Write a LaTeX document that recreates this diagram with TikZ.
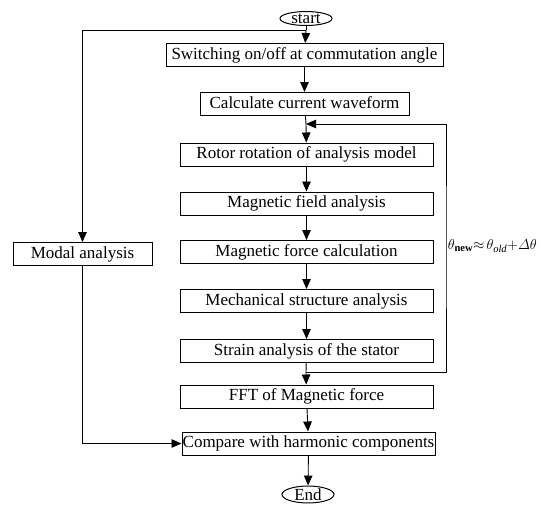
\documentclass[tikz,border=0pt]{standalone}
\usepackage{amsmath}
\usepackage{fontspec}
\setmainfont{Liberation Serif}
\usetikzlibrary{arrows.meta,positioning,shapes.geometric}

\tikzset{
  box/.style={draw,line width=1pt,inner sep=0pt,minimum height=23pt,
    text height=12pt,text depth=3.5pt},
  term/.style={draw,ellipse,line width=1pt,inner sep=0pt,
    minimum width=52pt,minimum height=14pt},
  flow/.style={line width=0.9pt},
}

\begin{document}
\begin{tikzpicture}[x=1pt,y=1pt,flow,>={Triangle[length=10pt,width=8.5pt]},
    font=\fontsize{17}{19}\selectfont]
  \useasboundingbox (0,0) rectangle (548,-504);

  \node[term] at (306,-18.5) (start) {start};
  \node[box,minimum width=277pt] at (304.5,-55) (switch) {Switching on/off at commutation angle};
  \node[box,minimum width=209pt] at (304.5,-104) (calc) {Calculate current waveform};

  \node[box,minimum width=253pt] at (306.5,-154.5) (rotor) {Rotor rotation of analysis model};
  \node[box,minimum width=253pt] at (306.5,-203.5) (field) {Magnetic field analysis};
  \node[box,minimum width=253pt] at (306.5,-252) (force) {Magnetic force calculation};
  \node[box,minimum width=253pt] at (306.5,-301) (mech) {Mechanical structure analysis};
  \node[box,minimum width=253pt] at (306.5,-351) (strain) {Strain analysis of the stator};
  \node[box,minimum width=253pt] at (306.5,-396.5) (fft) {FFT of Magnetic force};
  \node[box,minimum width=253pt] at (308.5,-443.5) (compare) {Compare with harmonic components};
  \node[term] at (308,-494.5) (end) {End};

  \node[box,minimum width=139pt] at (82.5,-254) (modal) {Modal analysis};

  \coordinate (top) at (306,-30);
  \coordinate (loopin) at (306,-124);
  \coordinate (loopout) at (306,-372);
  \coordinate (back) at (446,-246);
  \node[right=1.5pt of back,inner sep=0pt,font=\fontsize{15}{17}\selectfont] (rule)
    {$\theta_{\mathbf{new}}{\approx}\,\theta_{\mathit{old}}{+}\varDelta\theta$};

  \draw (start)--(top);
  \draw[->] (top)--(switch);
  \draw[->] (top)-|(modal);
  \draw[->] (switch)--(calc);
  \draw (calc)--(loopin);
  \draw[->] (loopin)--(rotor);
  \draw[->] (rotor)--(field);
  \draw[->] (field)--(force);
  \draw[->] (force)--(mech);
  \draw[->] (mech)--(strain);
  \draw (strain)--(loopout);
  \draw[->] (loopout)--(fft);
  \draw[->] (loopout)-|(back)|-(loopin);
  \draw[->] (fft)--(compare);
  \draw[->] (modal)|-(compare);
  \draw[->] (compare)--(end);

\end{tikzpicture}
\end{document}
